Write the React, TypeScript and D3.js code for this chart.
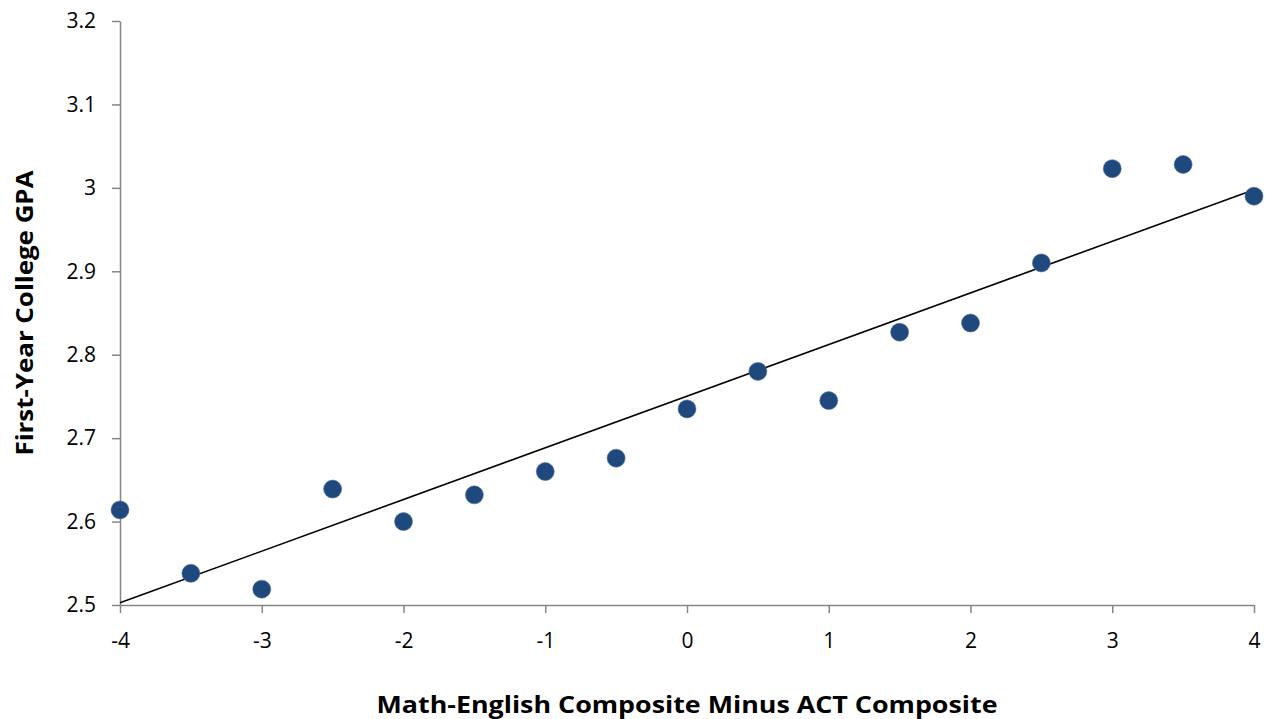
import * as d3 from "d3"
import { useRef, useEffect } from "react"

const xValues = [-4, -3.5, -3, -2.5, -2, -1.5, -1, -0.5, 0, 0.5, 1, 1.5, 2, 2.5, 3, 3.5, 4]
const gpaValues = [
  2.614, 2.538, 2.519, 2.639, 2.6, 2.632, 2.66, 2.676, 2.735, 2.78, 2.745, 2.827, 2.838, 2.91,
  3.023, 3.028, 2.99,
]
const xTicks = [-4, -3, -2, -1, 0, 1, 2, 3, 4]
const yTicks = [2.5, 2.6, 2.7, 2.8, 2.9, 3, 3.1, 3.2]
const xTitle = "Math-English Composite Minus ACT Composite"
const yTitle = "First-Year College GPA"

export default function App() {
  const svgRef = useRef<SVGSVGElement>(null)

  useEffect(() => {
    if (!svgRef.current) return
    document.body.style.margin = "0"

    const width = 1265
    const height = 719
    const margin = { top: 21, right: 11, bottom: 114, left: 120 }
    const font = "Open Sans, sans-serif"

    const svg = d3.select(svgRef.current)
    svg.selectAll("*").remove()
    svg.attr("width", width).attr("height", height)

    const x = d3.scaleLinear().domain([-4, 4]).range([margin.left, width - margin.right])
    const y = d3.scaleLinear().domain([2.5, 3.2]).range([height - margin.bottom, margin.top])

    // y axis
    svg
      .append("g")
      .attr("transform", `translate(${margin.left},0)`)
      .call(
        d3
          .axisLeft(y)
          .tickValues(yTicks)
          .tickSize(8)
          .tickSizeOuter(0)
          .tickPadding(16)
          .tickFormat((d) => String(d)),
      )
      .call((g) => g.select(".domain").attr("stroke", "#868686").attr("stroke-width", 1.5))
      .call((g) => g.selectAll(".tick line").attr("stroke", "#868686").attr("stroke-width", 1.5))
      .call((g) =>
        g.selectAll("text").style("font-size", "21px").style("font-family", font).style("fill", "#000"),
      )

    // x axis
    svg
      .append("g")
      .attr("transform", `translate(0,${height - margin.bottom})`)
      .call(
        d3
          .axisBottom(x)
          .tickValues(xTicks)
          .tickSize(8)
          .tickSizeOuter(0)
          .tickPadding(20)
          .tickFormat((d) => String(d)),
      )
      .call((g) => g.select(".domain").attr("stroke", "#868686").attr("stroke-width", 1.5))
      .call((g) => g.selectAll(".tick line").attr("stroke", "#868686").attr("stroke-width", 1.5))
      .call((g) =>
        g.selectAll("text").style("font-size", "21px").style("font-family", font).style("fill", "#000"),
      )

    // least-squares trend line
    const mx = d3.mean(xValues) || 0
    const my = d3.mean(gpaValues) || 0
    const sxy = d3.sum(xValues, (v, i) => (v - mx) * (gpaValues[i] - my))
    const sxx = d3.sum(xValues, (v) => (v - mx) ** 2)
    const slope = sxy / sxx
    const intercept = my - slope * mx
    const [x0, x1] = x.domain()

    svg
      .append("line")
      .attr("x1", x(x0))
      .attr("y1", y(intercept + slope * x0))
      .attr("x2", x(x1))
      .attr("y2", y(intercept + slope * x1))
      .attr("stroke", "#000")
      .attr("stroke-width", 1.6)

    svg
      .append("g")
      .selectAll("circle")
      .data(xValues)
      .enter()
      .append("circle")
      .attr("cx", (d) => x(d))
      .attr("cy", (_d, i) => y(gpaValues[i]))
      .attr("r", 9)
      .attr("fill", "#1f497d")
      .attr("stroke", "#4a6fa0")
      .attr("stroke-width", 0.6)

    svg
      .append("text")
      .attr("x", (margin.left + width - margin.right) / 2)
      .attr("y", 713)
      .attr("text-anchor", "middle")
      .attr("textLength", 621)
      .attr("lengthAdjust", "spacingAndGlyphs")
      .text(xTitle)
      .style("font-size", "24px")
      .style("font-weight", "bold")
      .style("font-family", font)

    svg
      .append("text")
      .attr("transform", `translate(33,${313}) rotate(-90)`)
      .attr("text-anchor", "middle")
      .attr("textLength", 285)
      .attr("lengthAdjust", "spacingAndGlyphs")
      .text(yTitle)
      .style("font-size", "24px")
      .style("font-weight", "bold")
      .style("font-family", font)
  }, [])

  return <svg ref={svgRef}></svg>
}
